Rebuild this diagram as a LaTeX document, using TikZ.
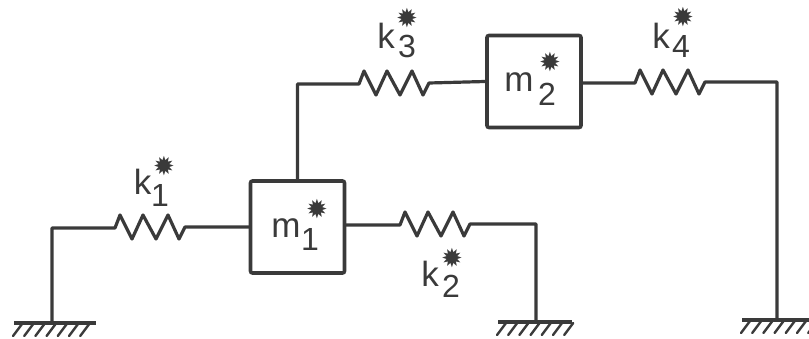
\documentclass[tikz,border=0pt]{standalone}
\usepackage{fontspec}
\setmainfont{Liberation Sans}
\newfontfamily\starfont{DejaVu Sans}
\definecolor{ink}{HTML}{3A3A3A}
\tikzset{
  x=1pt,y=-1pt,
  wire/.style={draw=ink,line width=3.2pt,line join=round,line cap=round},
  massbox/.style={draw=ink,line width=3.6pt,rounded corners=2pt,inner sep=0pt,minimum width=94pt,minimum height=92pt},
  bigtxt/.style={text=ink,font=\fontsize{35}{35}\selectfont,inner sep=0pt},
  subtxt/.style={text=ink,font=\fontsize{32}{32}\selectfont,inner sep=0pt},
  startxt/.style={text=ink,font=\starfont\fontsize{26}{26}\selectfont,inner sep=0pt},
  gbar/.style={draw=ink,line width=3.6pt},
  hatch/.style={draw=ink,line width=2.4pt,line cap=round}
}
\newcommand{\zigzag}{-- ++(5,-13) -- ++(12,24) -- ++(11,-24) -- ++(13,24) -- ++(12,-24) -- ++(11,24) -- ++(6,-12)}
\newcommand{\groundbar}[4]{% name, left x, right x, y
  \coordinate (#1) at (#2,#4);
  \draw[gbar] (#2,#4) -- (#3,#4);
  \foreach \h in {0,...,6} \draw[hatch] ({#2+8+\h*11.2},#4+1) -- ++(-9,12);
}
\begin{document}
\begin{tikzpicture}
\useasboundingbox (0,0) rectangle (809,339);
% masses
\node[massbox] (m1) at (297.5,227) {};
\node[massbox] (m2) at (534,81.5) {};
% ground
\groundbar{g1}{14}{96}{323}
\groundbar{g2}{498}{572}{322}
\groundbar{g3}{742}{809}{320}
\coordinate (g1t) at (52,323);
\coordinate (g2t) at (536,322);
\coordinate (g3t) at (777,320);
% spring starts
\coordinate (s1) at (115,228);
\coordinate (s2) at (400,225);
\coordinate (s3) at (359,84);
\coordinate (s4) at (635,83);
% connectors
\draw[wire] (g1t) |- (s1) \zigzag -- (m1.west);
\draw[wire] (m1.east |- s2) -- (s2) \zigzag -| (g2t);
\draw[wire] (m1.north) |- (s3) \zigzag -- (m2.west);
\draw[wire] (m2.east |- s4) -- (s4) \zigzag -| (g3t);
% labels
\node[bigtxt,anchor=base] (lk1) at (142.5,195) {k};
\node[subtxt,anchor=base] (ls1) at (160,207) {1};
\node[startxt] (st1) at (164,166) {✹};
\node[bigtxt,anchor=base] (lk2) at (430,287) {k};
\node[subtxt,anchor=base] (ls2) at (451,298) {2};
\node[startxt] (st2) at (452,258) {✹};
\node[bigtxt,anchor=base] (lk3) at (386,49) {k};
\node[subtxt,anchor=base] (ls3) at (407,58) {3};
\node[startxt] (st3) at (407,18) {✹};
\node[bigtxt,anchor=base] (lk4) at (661,49) {k};
\node[subtxt,anchor=base] (ls4) at (681,58) {4};
\node[startxt] (st4) at (683,17) {✹};
\node[bigtxt,anchor=base] (lm1) at (286,238) {m};
\node[subtxt,anchor=base] (lt1) at (310,251) {1};
\node[startxt] (st5) at (317,209) {✹};
\node[bigtxt,anchor=base] (lm2) at (519,92) {m};
\node[subtxt,anchor=base] (lt2) at (547,106) {2};
\node[startxt] (st6) at (550,62) {✹};
\end{tikzpicture}
\end{document}
